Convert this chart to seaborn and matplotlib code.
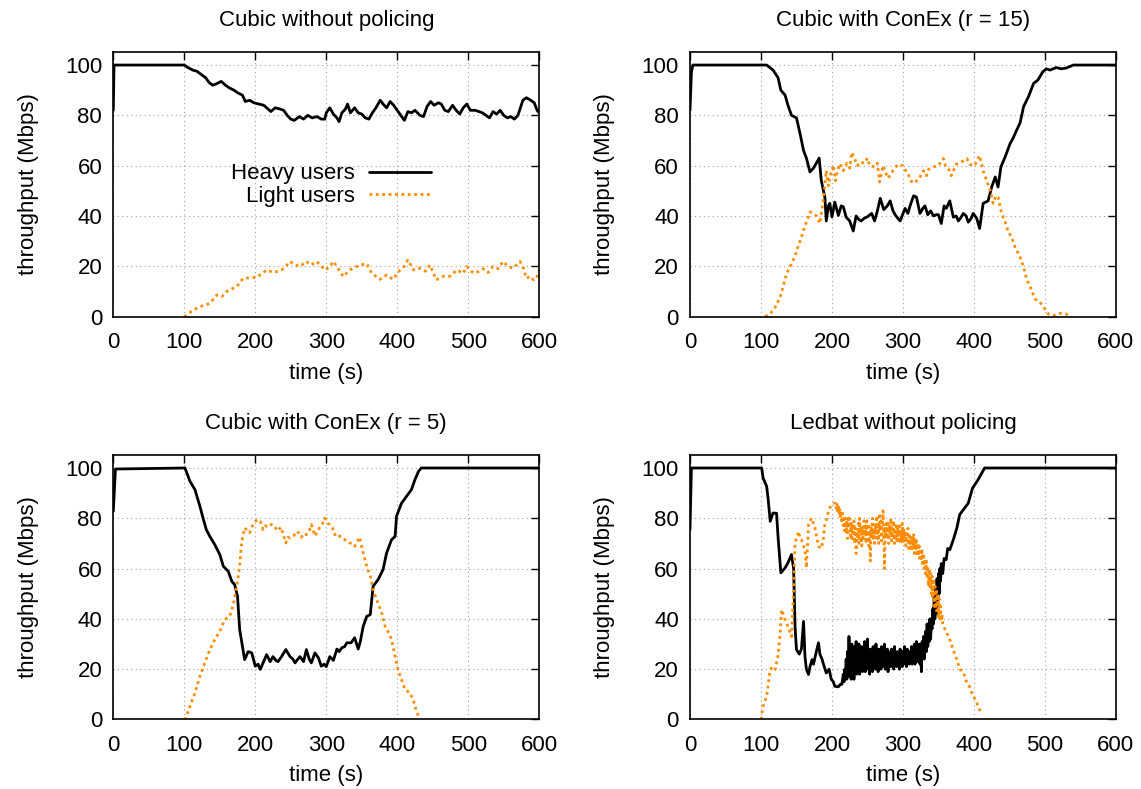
import matplotlib
matplotlib.use("Agg")
import matplotlib.pyplot as plt
import seaborn as sns

# ---- data (time in s, throughput in Mbps) ----

# Cubic without policing
t_cubic_heavy = [0, 1, 100, 105, 112, 118, 125, 130, 135, 140, 145, 152, 158, 163, 170, 175, 182, 186,
                 192, 198, 205, 212, 218, 222, 228, 235, 240, 245, 250, 255, 262, 268, 274, 280, 287,
                 293, 298, 300, 305, 310, 315, 318, 322, 327, 330, 334, 340, 345, 350, 355, 360, 365,
                 370, 376, 380, 385, 390, 395, 400, 405, 410, 415, 420, 425, 432, 437, 442, 447, 452,
                 458, 462, 467, 472, 478, 483, 488, 493, 498, 503, 510, 515, 520, 525, 530, 535, 540,
                 545, 550, 555, 560, 565, 570, 577, 582, 588, 593, 597, 600]
y_cubic_heavy = [82, 100, 100, 99, 98, 97.5, 96, 95, 93, 92, 92.5, 93.5, 92, 91, 90, 89, 88, 85.5,
                 86, 85, 84.5, 84, 82.5, 81.5, 83, 82.5, 82, 80, 78.5, 78, 79.5, 78.5, 80, 79, 79.5,
                 78.5, 78.5, 81, 83, 80.5, 79, 77.5, 81, 82.5, 84.5, 81, 83, 81, 80.5, 79, 78.5, 81,
                 83, 86, 84.5, 83, 85.5, 84, 82, 80, 78, 81.5, 81, 82, 80, 79.5, 83.5, 85.5, 84,
                 85, 84.5, 82, 81.5, 84, 82, 80.5, 83, 84.5, 82, 82, 81.5, 81, 80, 79, 81.5, 80.5,
                 82, 80, 79, 79.5, 78.5, 80, 86, 87, 86, 85, 82, 81]
t_cubic_light = [100, 103, 110, 122, 130, 136, 146, 153, 160, 167, 174, 183, 192, 202, 209, 216, 226,
                 237, 243, 249, 256, 263, 272, 279, 286, 292, 298, 304, 310, 317, 324, 333, 340, 347,
                 357, 364, 370, 376, 385, 394, 404, 410, 415, 423, 432, 440, 446, 455, 465, 474, 484,
                 493, 498, 504, 509, 515, 521, 528, 535, 542, 549, 556, 563, 573, 578, 582, 587, 592,
                 596, 600]
y_cubic_light = [0, 0.5, 2, 4, 4.5, 5.3, 8.6, 8, 10, 11, 12, 15.2, 15.4, 15.6, 17, 18.5, 17.5,
                 18.5, 20, 21.9, 20.5, 19.9, 21.9, 20.5, 21.9, 20.5, 18.5, 19.5, 21.9, 19, 15.9, 18.5, 19.5, 20.5,
                 21, 17.2, 16, 14.8, 16.5, 14.8, 18.5, 20, 22.5, 18.5, 19.2, 18, 20.5, 14.6, 16, 16, 18.5,
                 17.2, 19.9, 18, 17.2, 18, 19, 17.5, 19.9, 19, 21.9, 20, 19.2, 21.9, 19, 15.2, 16, 14.6,
                 15, 18.5]

# Cubic with ConEx (r = 15)
t_c15_heavy = [0, 2, 4, 108, 117, 124, 128, 134, 138, 143, 150, 155, 160, 164, 169, 174, 178, 182,
               185, 190, 192, 195, 197, 200, 204, 209, 213, 216, 220, 225, 230, 234, 238, 241, 245,
               249, 256, 260, 264, 268, 273, 278, 282, 286, 289, 293, 296, 303, 307, 310, 315, 319,
               324, 328, 331, 335, 339, 343, 347, 350, 354, 358, 361, 366, 371, 375, 378, 382, 385,
               389, 392, 396, 399, 404, 408, 413, 420, 425, 430, 434, 438, 444, 451, 455, 460, 465,
               470, 477, 484, 490, 497, 502, 507, 516, 523, 530, 540, 600]
y_c15_heavy = [82, 97, 100, 100, 98, 95, 90, 88, 84, 80, 79, 72.8, 66, 63, 57.5, 59, 61, 63,
               54, 47.5, 38, 44, 45, 39.6, 45.5, 40.2, 44, 43.6, 39.5, 38, 34, 40, 38.5, 38, 39,
               39.5, 41, 38, 42, 47, 42.5, 44, 46, 42, 40.5, 39, 38, 43, 41, 44, 48, 47.5,
               41, 43, 44, 40.5, 42, 40, 40.5, 40.5, 37, 44, 43, 46, 39.5, 40, 38, 39.5, 41,
               40, 37.5, 39, 41, 39, 35, 45, 46, 51.5, 55.5, 51.5, 59.5, 63.5, 68.8, 70.8, 74, 77,
               83.5, 87.5, 92.7, 94, 97.3, 98.5, 98, 99, 98.5, 98.8, 100, 100]
t_c15_light = [106, 113, 120, 127, 131, 136, 143, 148, 152, 157, 162, 166, 169, 174, 178, 183, 186,
               188, 192, 195, 197, 202, 205, 207, 211, 216, 221, 225, 228, 232, 236, 239, 246, 250,
               253, 260, 264, 267, 272, 276, 279, 286, 293, 300, 304, 307, 311, 315, 322, 329, 333,
               336, 343, 350, 357, 360, 364, 368, 375, 382, 390, 394, 401, 408, 413, 418, 423, 427,
               431, 434, 439, 444, 448, 453, 458, 465, 470, 474, 479, 486, 493, 500, 505, 512, 521,
               530, 535]
y_c15_light = [0, 1, 3.7, 7.7, 11.7, 17, 21, 24, 27.6, 31.6, 36, 39, 41.6, 41, 40, 37, 43,
               47, 58, 52, 55.5, 60.2, 54, 57, 60.8, 58, 61, 59, 65.3, 62.8, 60, 61.4, 61, 63,
               60, 59.5, 61, 53.5, 60, 57, 55, 58, 60.5, 60, 58, 57, 54, 53, 54.5, 58, 56,
               58.5, 59.5, 60, 62.8, 60, 59, 56, 60.5, 61.4, 62.8, 60.5, 60, 64, 58, 54, 50, 45,
               48, 47.5, 41, 37.6, 34, 31.6, 27.6, 23.6, 19.7, 15, 12, 7, 5.7, 3, 1, 0.4, 1.3,
               1, 0]

# Cubic with ConEx (r = 5)
t_c5_heavy = [0, 3, 101, 108, 115, 122, 127, 131, 136, 143, 150, 155, 162, 167, 171, 175, 178, 182,
              185, 190, 195, 200, 204, 207, 211, 216, 221, 225, 229, 232, 237, 243, 249, 253, 256,
              260, 263, 268, 272, 276, 279, 284, 289, 293, 297, 300, 305, 310, 315, 318, 322, 326,
              329, 335, 340, 345, 348, 352, 357, 362, 366, 373, 380, 385, 392, 397, 399, 406, 413,
              420, 425, 430, 434, 600]
y_c5_heavy = [82.8, 99.6, 100, 94.7, 91.4, 84.8, 79.5, 75.5, 72.8, 69.5, 65.6, 60.9, 58.9, 54.9, 53.6,
              49, 35.8, 29, 23.8, 27, 26.5, 21.2, 22, 19.9, 22.5, 25.8, 23, 25, 23.5, 23, 25, 27.8,
              25, 24, 22.5, 24, 25, 23, 27.8, 24, 22.5, 26.5, 24.5, 21.2, 22, 21, 25, 23.5, 28,
              27, 28.5, 29, 30.5, 30.5, 32.5, 28, 31, 37, 41, 41.7, 53, 55.6, 59.6, 66.2, 71.5,
              72.8, 80.8, 86, 88.7, 91.4, 95.4, 98.7, 100, 100]
t_c5_light = [100, 102, 108, 115, 122, 129, 136, 143, 150, 157, 164, 169, 174, 178, 181, 185, 189,
              192, 196, 200, 204, 207, 211, 214, 218, 222, 225, 229, 232, 236, 239, 243, 246, 249,
              254, 258, 262, 265, 269, 272, 276, 279, 284, 288, 291, 295, 298, 302, 305, 309, 312,
              316, 319, 323, 326, 330, 333, 337, 340, 344, 347, 352, 357, 362, 366, 371, 378, 383,
              387, 392, 397, 401, 406, 411, 418, 423, 427, 431]
y_c5_light = [0, 0.5, 5.3, 10.6, 17.2, 22.5, 27.8, 31.8, 35, 39.7, 41, 45.7, 53, 61, 70.9, 76.2, 75,
              74.2, 77, 78.8, 79.5, 78.8, 75.5, 77, 76.5, 77.5, 77.5, 76, 75, 76.5, 74, 70.2, 72.5,
              72.2, 73, 74.8, 74, 72.5, 74, 73.5, 75, 77.5, 73, 75, 76.5, 78, 80.1, 78, 77.5, 76,
              73.5, 74, 72.8, 72, 71.5, 71, 70.2, 70, 68.9, 71, 72.5, 66.2, 61, 57, 51.7, 47.7,
              42.4, 37, 35, 31.8, 25.2, 19.9, 15.9, 11.9, 10.6, 7.3, 3.3, 0.7]

# Ledbat without policing (sampled every second in the noisy middle part)
t_led_heavy = ([0, 2, 101, 103, 108, 110, 113, 117, 122, 124, 128, 134, 138, 143, 146, 148, 150,
                154, 157, 160, 162, 164, 167, 169, 172, 174, 178, 181, 183, 186, 188, 192, 196,
                199, 202, 204, 209, 212]
               + list(range(214, 355))
               + [356, 358, 361, 363, 366, 371, 376, 380, 387, 392, 398, 406, 411, 415, 600])
y_led_heavy = [75.5, 100, 100, 96, 92.7, 88, 78.8, 82.1, 82, 72.8, 58.3, 60.3, 62.3, 65.6, 60, 37, 27.8,
               26, 28, 39, 25, 20, 17.9, 21, 23.8, 22, 27, 30.5, 26, 24, 22, 18.5, 20,
               16, 15, 13.2, 13, 14,
               14, 16, 18, 15, 20, 17, 24, 16, 27, 19,
               33, 17, 28, 16, 30, 19, 26, 16, 29, 20,
               31, 18, 27, 21, 30, 18, 26, 20, 29, 19,
               25, 22, 31, 19, 27, 21, 32, 20, 26, 18,
               28, 21, 25, 19, 29, 22, 27, 20, 30, 21,
               26, 19, 28, 22, 25, 20, 29, 21, 27, 23,
               30, 20, 26, 22, 28, 19, 27, 23, 25, 21,
               28, 22, 26, 20, 29, 23, 25, 21, 27, 24,
               26, 20, 28, 23, 25, 21, 27, 22, 29, 24,
               26, 21, 28, 24, 25, 22, 27, 23, 29, 22,
               26, 24, 30, 22, 27, 31, 23, 28, 24, 30,
               22, 27, 19, 31, 25, 33, 24, 30, 35, 27,
               38, 29, 36, 31, 40, 32, 38, 36, 44, 38,
               49, 40, 52, 42, 56, 45, 58, 50, 60, 55, 62,
               58, 64, 63.6, 68, 67.5, 71.5, 76.2, 81.5, 84.1, 86, 92, 95.4, 98, 100, 100]
t_led_light = ([100, 103, 108, 113, 117, 120, 124, 127, 129, 134, 138, 143, 146, 148, 151, 153,
                155, 157, 160, 162, 164, 167, 171, 174, 176, 179, 181, 185, 188, 190, 193, 195,
                199, 203]
               + list(range(205, 358))
               + [361, 366, 371, 376, 380, 385, 390, 394, 397, 404, 408, 411])
y_led_light = [0, 5.3, 9.3, 19.9, 21, 19.9, 25.2, 34.4, 43.7, 39.7, 37, 33, 51.7, 70.2, 73, 74.8,
               72, 71.5, 69, 67.5, 60.3, 77.5, 80.1, 78, 76.2, 72, 68.9, 68, 72, 77.5, 80, 82.8,
               85.4, 86,
               86, 84, 86, 83, 85, 82, 84, 80, 83, 78,
               82, 77, 81, 75, 80, 74, 79, 72, 81, 76,
               80, 73, 78, 71, 77, 74, 79, 70, 76, 66,
               75, 72, 78, 70, 80, 74, 77, 69, 76, 72,
               79, 73, 77, 70, 80, 74, 78, 69, 75, 63,
               77, 73, 80, 72, 76, 70, 78, 74, 81, 72,
               77, 70, 82, 75, 79, 71, 77, 83, 74, 60,
               76, 72, 79, 73, 78, 70, 77, 74, 80, 71,
               76, 73, 79, 70, 75, 72, 78, 71, 76, 73,
               77, 70, 75, 72, 78, 70, 76, 72, 75, 69,
               74, 71, 76, 68, 74, 70, 73, 67, 72, 69,
               74, 66, 72, 68, 71, 65, 70, 66, 69, 63,
               68, 64, 67, 61, 66, 60, 64, 58, 63, 56,
               61, 53, 60, 52, 58, 50, 57, 48, 56, 45,
               54, 44, 52, 42, 50, 41, 48, 40, 45, 39,
               42, 38, 37,
               35, 31.8, 27.5, 23.8, 20, 19, 14.5, 13, 10.6, 6.6, 4, 2]

panels = [
    ("Cubic without policing", t_cubic_heavy, y_cubic_heavy, t_cubic_light, y_cubic_light),
    ("Cubic with ConEx (r = 15)", t_c15_heavy, y_c15_heavy, t_c15_light, y_c15_light),
    ("Cubic with ConEx (r = 5)", t_c5_heavy, y_c5_heavy, t_c5_light, y_c5_light),
    ("Ledbat without policing", t_led_heavy, y_led_heavy, t_led_light, y_led_light),
]

sns.set_style("white")
plt.rcParams['font.family'] = ['Liberation Sans', 'DejaVu Sans']
# gnuplot look: plain black text
for key in ["text.color", "axes.labelcolor", "xtick.color", "ytick.color"]:
    plt.rcParams[key] = "black"

heavy_color = "black"
light_color = "#ff8c00"
fs = 16

fig, axes = plt.subplots(2, 2, figsize=(11.41, 7.89), dpi=100)
fig.subplots_adjust(left=0.0993, right=0.978, top=0.9335, bottom=0.0881, wspace=0.354, hspace=0.526)

for ax, (title, th, yh, tl, yl) in zip(axes.flat, panels):
    sns.lineplot(x=th, y=yh, ax=ax, color=heavy_color, linewidth=2.0, sort=False,
                 estimator=None, label="Heavy users")
    sns.lineplot(x=tl, y=yl, ax=ax, color=light_color, linewidth=2.0, sort=False,
                 estimator=None, label="Light users")
    ax.lines[-1].set_linestyle((0, (1.0, 1.3)))
    ax.lines[-1].set_dash_capstyle("butt")

    ax.set_xlim(0, 600)
    ax.set_ylim(0, 105)
    ax.set_xticks(range(0, 601, 100))
    ax.set_yticks(range(0, 101, 20))
    ax.grid(True, color="#a0a0a0", linestyle=(0, (1, 3)), linewidth=0.8)
    ax.tick_params(direction="in", top=True, right=True, length=6, width=1, labelsize=fs)
    ax.tick_params(axis="x", pad=11)
    ax.tick_params(axis="y", pad=8)
    for side in ax.spines.values():
        side.set_color("black")
        side.set_linewidth(1.2)
    ax.set_title(title, fontsize=fs, pad=19)
    ax.set_xlabel("time (s)", fontsize=fs, labelpad=7)
    ax.set_ylabel("throughput (Mbps)", fontsize=fs, labelpad=19)
    ax.get_legend().remove()

# only the first panel carries the key
leg = axes[0, 0].legend(loc="center", bbox_to_anchor=(0.511, 0.498), frameon=False,
                        markerfirst=False, fontsize=fs, handlelength=2.75,
                        handletextpad=0.65, labelspacing=0.05)

plt.savefig("out.png", dpi=100)
